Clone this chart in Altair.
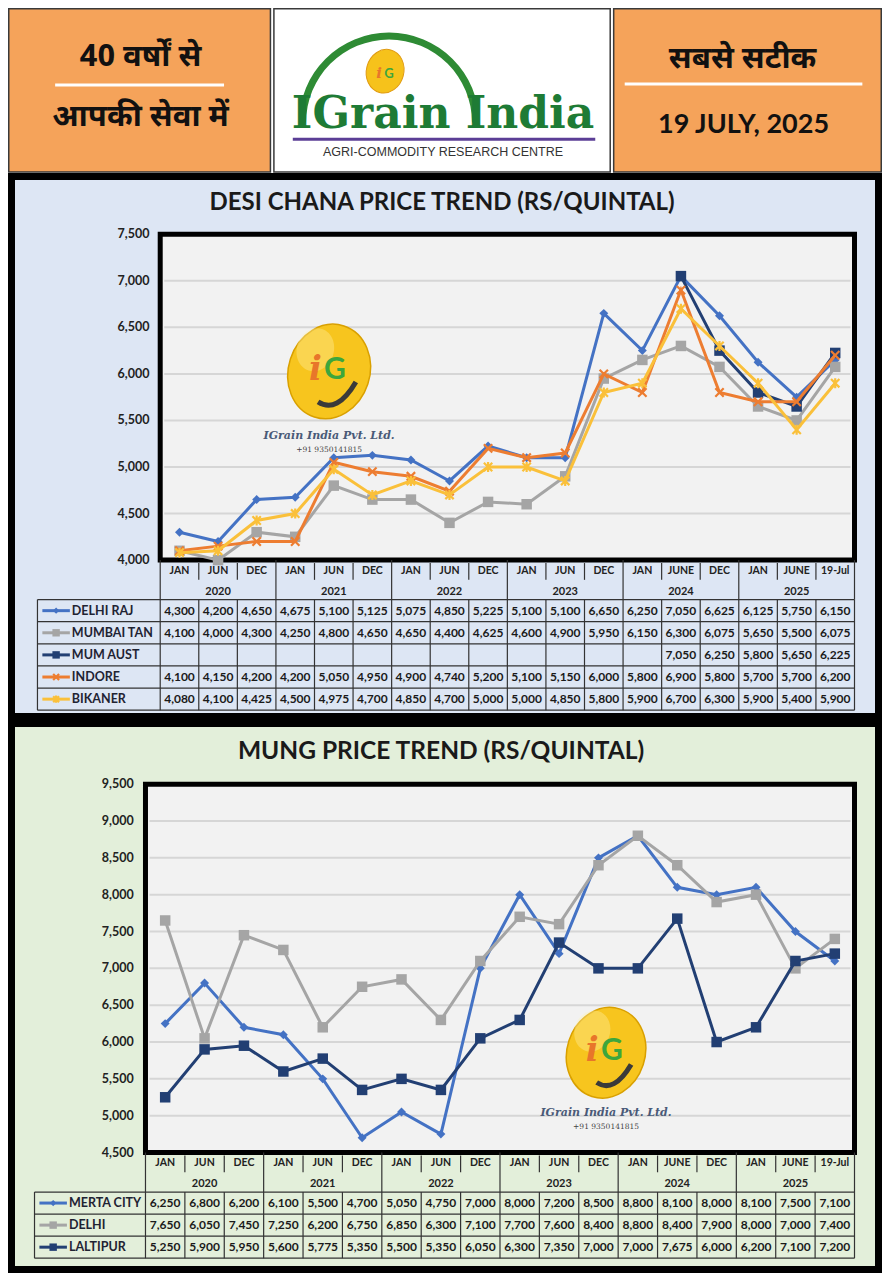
import altair as alt
import pandas as pd

# ---------------- data ----------------
months = ["JAN", "JUN", "DEC", "JAN", "JUN", "DEC", "JAN", "JUN", "DEC",
          "JAN", "JUN", "DEC", "JAN", "JUNE", "DEC", "JAN", "JUNE", "19-Jul"]
years = ["2020", "2021", "2022", "2023", "2024", "2025"]

chana_names = ["DELHI RAJ", "MUMBAI TAN", "MUM AUST", "INDORE", "BIKANER"]
chana_delhi_raj = [4300, 4200, 4650, 4675, 5100, 5125, 5075, 4850, 5225, 5100, 5100, 6650, 6250, 7050, 6625, 6125, 5750, 6150]
chana_mumbai_tan = [4100, 4000, 4300, 4250, 4800, 4650, 4650, 4400, 4625, 4600, 4900, 5950, 6150, 6300, 6075, 5650, 5500, 6075]
chana_mum_aust = [None, None, None, None, None, None, None, None, None, None, None, None, None, 7050, 6250, 5800, 5650, 6225]
chana_indore = [4100, 4150, 4200, 4200, 5050, 4950, 4900, 4740, 5200, 5100, 5150, 6000, 5800, 6900, 5800, 5700, 5700, 6200]
chana_bikaner = [4080, 4100, 4425, 4500, 4975, 4700, 4850, 4700, 5000, 5000, 4850, 5800, 5900, 6700, 6300, 5900, 5400, 5900]
chana_ticks = [4000, 4500, 5000, 5500, 6000, 6500, 7000, 7500]

mung_names = ["MERTA CITY", "DELHI", "LALTIPUR"]
mung_merta_city = [6250, 6800, 6200, 6100, 5500, 4700, 5050, 4750, 7000, 8000, 7200, 8500, 8800, 8100, 8000, 8100, 7500, 7100]
mung_delhi = [7650, 6050, 7450, 7250, 6200, 6750, 6850, 6300, 7100, 7700, 7600, 8400, 8800, 8400, 7900, 8000, 7000, 7400]
mung_laltipur = [5250, 5900, 5950, 5600, 5775, 5350, 5500, 5350, 6050, 6300, 7350, 7000, 7000, 7675, 6000, 6200, 7100, 7200]
mung_ticks = [4500, 5000, 5500, 6000, 6500, 7000, 7500, 8000, 8500, 9000, 9500]

# ---------------- styles ----------------
BLUE = "#4472C4"
GRAY = "#A5A5A5"
NAVY = "#223F73"
ORANGE = "#ED7D31"
YELLOW = "#FAC03A"
FONT = "Lato"
HINDI = "'Noto Sans Devanagari', 'Lohit Devanagari', 'Noto Sans', sans-serif"

W = 874
SX = W / 890
SY = 1264 / 1280
ONE = pd.DataFrame({"k": [0]})

X_PATH = "M-1,-1L1,1M-1,1L1,-1"
STAR_PATH = "M-1,-1L1,1M-1,1L1,-1M0,-1.2L0,1.2"
ELLIPSE = "M0,-1A0.85,1 0 1,1 0,1A0.85,1 0 1,1 0,-1Z"
SWOOSH = "M-1,0.35Q0,1 1,-0.7"


def marker(kind, col, scale=1.0):
    if kind == "diamond":
        return dict(shape="diamond", filled=True, color=col, size=80 * scale, opacity=1)
    if kind == "square":
        return dict(shape="square", filled=True, color=col, size=110 * scale, opacity=1)
    if kind == "x":
        return dict(shape=X_PATH, filled=False, color=col, size=70 * scale, strokeWidth=2.2, opacity=1)
    return dict(shape=STAR_PATH, filled=False, color=col, size=70 * scale, strokeWidth=2.2, opacity=1)


def logo_layers(cx, cy, w, h, ty, X, Y):
    b = alt.Chart(ONE)
    out = []
    out.append(b.mark_point(shape=ELLIPSE, size=(h * SY) ** 2, filled=True, fill="#F7C51E",
                            stroke="#D9A000", strokeWidth=1.5, opacity=1, angle=18)
               .encode(x=alt.value(X(cx)), y=alt.value(Y(cy))))
    out.append(b.mark_point(shape=ELLIPSE, size=(h * 0.45) ** 2, filled=True, fill="#FFF3B0",
                            opacity=0.35, angle=18)
               .encode(x=alt.value(X(cx - 14)), y=alt.value(Y(cy - 22))))
    out.append(b.mark_text(text="i", font="DejaVu Serif", fontSize=34, fontStyle="italic",
                           fontWeight="bold", color="#E8762A")
               .encode(x=alt.value(X(cx - 14)), y=alt.value(Y(cy - 2))))
    out.append(b.mark_text(text="G", font=FONT, fontSize=30, fontWeight="bold", color="#3DA63D")
               .encode(x=alt.value(X(cx + 6)), y=alt.value(Y(cy - 2))))
    out.append(b.mark_point(shape=SWOOSH, size=(w * 0.42) ** 2, filled=False, stroke="#3a3a3a",
                            strokeWidth=5, opacity=1)
               .encode(x=alt.value(X(cx + 8)), y=alt.value(Y(cy + 24))))
    out.append(b.mark_text(text="IGrain India Pvt. Ltd.", font="DejaVu Serif", fontSize=11,
                           fontStyle="italic", fontWeight="bold", color="#4A5A78")
               .encode(x=alt.value(X(cx)), y=alt.value(Y(ty))))
    out.append(b.mark_text(text="+91 9350141815", font="DejaVu Serif", fontSize=7.5, color="#444")
               .encode(x=alt.value(X(cx)), y=alt.value(Y(ty + 14))))
    return out


def price_panel(s):
    top, bottom = s["top"], s["bottom"]
    H = round((bottom - top) * SY)

    def X(v):
        return round(v * SX, 2)

    def Y(v):
        return round((v - top) * SY, 2)

    L, R = X(s["L"]), X(s["R"])
    PT, PB = Y(s["PT"]), Y(s["PB"])
    n = len(months)
    nr = len(s["names"])
    xs = alt.Scale(domain=[0, n], range=[L, R], nice=False, zero=False)
    ys = alt.Scale(domain=[s["ticks"][0], s["ticks"][-1]], range=[PB, PT], nice=False, zero=False)
    rs = alt.Scale(domain=[0, nr], range=[Y(s["rows_top"]), Y(s["rows_bottom"])], nice=False, zero=False)
    b = alt.Chart(ONE)
    layers = []
    bw = 7
    # panel background and border
    layers.append(b.mark_rect(fill=s["bg"], stroke="black", strokeWidth=bw)
                  .encode(x=alt.value(bw / 2), x2=alt.value(W - bw / 2),
                          y=alt.value(bw / 2), y2=alt.value(H - bw / 2)))
    # title
    layers.append(b.mark_text(text=s["title"], font=FONT, fontSize=s["title_size"], fontWeight="bold",
                              color="#1a1a1a")
                  .encode(x=alt.value(X(s["title_x"])), y=alt.value(Y(s["title_y"]))))
    # plot area
    layers.append(b.mark_rect(fill="#F2F2F2", stroke="black", strokeWidth=5)
                  .encode(x=alt.value(L), x2=alt.value(R), y=alt.value(PT), y2=alt.value(PB)))
    tick_df = pd.DataFrame({"v": s["ticks"], "lbl": [f"{t:,}" for t in s["ticks"]]})
    layers.append(alt.Chart(tick_df.iloc[1:-1]).mark_rule(color="#D6D6D6", strokeWidth=2)
                  .encode(y=alt.Y("v:Q", scale=ys, axis=None),
                          x=alt.value(L + 4), x2=alt.value(R - 4)))
    layers.append(alt.Chart(tick_df).mark_text(align="right", baseline="middle", font=FONT,
                                               fontSize=12.5, fontWeight="bold", color="#222")
                  .encode(y=alt.Y("v:Q", scale=ys, axis=None), x=alt.value(X(s["ytick_x"])),
                          text="lbl:N"))
    # watermark
    lx, ly, lw, lh, lty = s["logo"]
    layers += logo_layers(lx, ly, lw, lh, lty, X, Y)
    # series
    for name, vals, col, mk in zip(s["names"], s["values"], s["colors"], s["markers"]):
        df = pd.DataFrame({"pos": [i + 0.5 for i, v in enumerate(vals) if v is not None],
                           "value": [v for v in vals if v is not None]})
        enc = dict(x=alt.X("pos:Q", scale=xs, axis=None), y=alt.Y("value:Q", scale=ys, axis=None))
        layers.append(alt.Chart(df).mark_line(color=col, strokeWidth=s["lw"]).encode(**enc))
        layers.append(alt.Chart(df).mark_point(**marker(mk, col)).encode(**enc))
    # table: header
    mdf = pd.DataFrame({"pos": [i + 0.5 for i in range(n)], "m": months})
    layers.append(alt.Chart(mdf).mark_text(font=FONT, fontSize=10.5, fontWeight="bold", color="#222")
                  .encode(x=alt.X("pos:Q", scale=xs, axis=None), y=alt.value(Y(s["month_y"])),
                          text="m:N"))
    ydf = pd.DataFrame({"pos": [3 * g + 1.5 for g in range(len(years))], "yr": years})
    layers.append(alt.Chart(ydf).mark_text(font=FONT, fontSize=11, fontWeight="bold", color="#222")
                  .encode(x=alt.X("pos:Q", scale=xs, axis=None), y=alt.value(Y(s["year_y"])),
                          text="yr:N"))
    short_b = pd.DataFrame({"b": [i for i in range(1, n) if i % 3 != 0]})
    layers.append(alt.Chart(short_b).mark_rule(color="#333", strokeWidth=1.2)
                  .encode(x=alt.X("b:Q", scale=xs, axis=None),
                          y=alt.value(Y(s["PB"] + 3)), y2=alt.value(Y(s["PB"] + 20))))
    year_b = pd.DataFrame({"b": [i for i in range(0, n + 1, 3)]})
    layers.append(alt.Chart(year_b).mark_rule(color="#333", strokeWidth=1.2)
                  .encode(x=alt.X("b:Q", scale=xs, axis=None),
                          y=alt.value(PB), y2=alt.value(Y(s["rows_top"]))))
    # table: grid
    all_b = pd.DataFrame({"b": list(range(0, n + 1))})
    layers.append(alt.Chart(all_b).mark_rule(color="#333", strokeWidth=1.2)
                  .encode(x=alt.X("b:Q", scale=xs, axis=None),
                          y=alt.value(Y(s["rows_top"])), y2=alt.value(Y(s["rows_bottom"]))))
    layers.append(b.mark_rule(color="#333", strokeWidth=1.2)
                  .encode(x=alt.value(X(s["label_left"])),
                          y=alt.value(Y(s["rows_top"])), y2=alt.value(Y(s["rows_bottom"]))))
    hdf = pd.DataFrame({"k": list(range(0, nr + 1))})
    layers.append(alt.Chart(hdf).mark_rule(color="#333", strokeWidth=1.2)
                  .encode(y=alt.Y("k:Q", scale=rs, axis=None),
                          x=alt.value(X(s["label_left"])), x2=alt.value(R)))
    # table: legend keys and labels
    ll = s["label_left"]
    for k, (name, col, mk) in enumerate(zip(s["names"], s["colors"], s["markers"])):
        kd = pd.DataFrame({"r": [k + 0.5]})
        layers.append(alt.Chart(kd).mark_rule(color=col, strokeWidth=3)
                      .encode(y=alt.Y("r:Q", scale=rs, axis=None),
                              x=alt.value(X(ll + 5)), x2=alt.value(X(ll + 33))))
        layers.append(alt.Chart(kd).mark_point(**marker(mk, col, 0.5))
                      .encode(y=alt.Y("r:Q", scale=rs, axis=None), x=alt.value(X(ll + 19))))
    ndf = pd.DataFrame({"r": [k + 0.5 for k in range(nr)], "name": s["names"]})
    layers.append(alt.Chart(ndf).mark_text(align="left", font=FONT, fontSize=12.5, fontWeight="bold",
                                           color="#1f2333")
                  .encode(y=alt.Y("r:Q", scale=rs, axis=None), x=alt.value(X(ll + 35)), text="name:N"))
    cells = []
    for k, vals in enumerate(s["values"]):
        for i, v in enumerate(vals):
            if v is not None:
                cells.append({"pos": i + 0.5, "r": k + 0.5, "txt": f"{v:,}"})
    cdf = pd.DataFrame(cells)
    layers.append(alt.Chart(cdf).mark_text(font=FONT, fontSize=12, fontWeight="bold", color="#1a1a1a")
                  .encode(x=alt.X("pos:Q", scale=xs, axis=None), y=alt.Y("r:Q", scale=rs, axis=None),
                          text="txt:N"))
    return (alt.layer(*layers)
            .resolve_scale(x="independent", y="independent")
            .properties(width=W, height=H))


def header_panel():
    H = round(166 * SY)

    def X(v):
        return round(v * SX, 2)

    def Y(v):
        return round(v * SY, 2)

    b = alt.Chart(ONE)
    layers = []

    def box(x0, x1, fill):
        return b.mark_rect(fill=fill, stroke="#3a3a3a", strokeWidth=1.5).encode(
            x=alt.value(X(x0) + 0.75), x2=alt.value(X(x1) - 0.75),
            y=alt.value(0.75), y2=alt.value(H))

    layers.append(box(0, 268, "#F5A35A"))
    layers.append(box(270, 614, "#FFFFFF"))
    layers.append(box(616, 890, "#F5A35A"))

    def txt(t, x, y, size, font=FONT, weight="normal", color="#111", style="normal"):
        return b.mark_text(text=t, font=font, fontSize=size, fontWeight=weight, color=color,
                           fontStyle=style, baseline="middle").encode(
            x=alt.value(X(x)), y=alt.value(Y(y)))

    def rule(x0, x1, y, color, w):
        return b.mark_rule(color=color, strokeWidth=w).encode(
            x=alt.value(X(x0)), x2=alt.value(X(x1)), y=alt.value(Y(y)))

    layers.append(txt("40 वर्षों से", 135, 50, 31, font=HINDI, weight="bold"))
    layers.append(rule(48, 220, 78, "white", 3))
    layers.append(txt("आपकी सेवा में", 135, 110, 31, font=HINDI, weight="bold"))
    layers.append(txt("सबसे सटीक", 748, 52, 31, font=HINDI, weight="bold"))
    layers.append(rule(628, 870, 77, "white", 3))
    layers.append(txt("19 JULY, 2025", 749, 118, 27, weight="bold"))
    # logo
    layers.append(b.mark_arc(color="#2E8B34", radius=90, radius2=83, theta=4.712, theta2=7.854)
                  .encode(x=alt.value(X(388)), y=alt.value(Y(116))))
    layers.append(b.mark_point(shape=ELLIPSE, size=44 ** 2, filled=True, fill="#F6C21B",
                               stroke="#E09A10", strokeWidth=1, opacity=1, angle=15)
                  .encode(x=alt.value(X(384)), y=alt.value(Y(64))))
    layers.append(txt("i", 378, 66, 15, font="DejaVu Serif", weight="bold", color="#E8762A", style="italic"))
    layers.append(txt("G", 388, 67, 13, weight="bold", color="#3DA63D"))
    layers.append(txt("IGrain India", 443, 108, 44, font="DejaVu Serif", weight="bold", color="#1E7B35"))
    layers.append(rule(290, 598, 133, "#5B3E96", 3))
    layers.append(txt("AGRI-COMMODITY RESEARCH CENTRE", 443, 146, 12.5, font="Liberation Sans", color="#333"))
    return alt.layer(*layers).properties(width=W, height=H)


chana = price_panel(dict(
    top=166, bottom=720, L=155, R=862, PT=228, PB=558,
    ticks=chana_ticks, ytick_x=144, title="DESI CHANA PRICE TREND (RS/QUINTAL)",
    title_x=442, title_y=196, title_size=24, month_y=569, year_y=590, rows_top=598, rows_bottom=710,
    label_left=30, logo=(327, 367, 90, 97, 432), bg="#DDE6F4", lw=3,
    names=chana_names,
    values=[chana_delhi_raj, chana_mumbai_tan, chana_mum_aust, chana_indore, chana_bikaner],
    colors=[BLUE, GRAY, NAVY, ORANGE, YELLOW],
    markers=["diamond", "square", "square", "x", "star"],
))

mung = price_panel(dict(
    top=720, bottom=1280, L=140, R=862, PT=785, PB=1158,
    ticks=mung_ticks, ytick_x=128, title="MUNG PRICE TREND (RS/QUINTAL)",
    title_x=441, title_y=752, title_size=24.5, month_y=1169, year_y=1190, rows_top=1198, rows_bottom=1265,
    label_left=27, logo=(609, 1057, 82, 93, 1118), bg="#E3EFDA", lw=3,
    names=mung_names,
    values=[mung_merta_city, mung_delhi, mung_laltipur],
    colors=[BLUE, GRAY, NAVY],
    markers=["diamond", "square", "square"],
))

chart = (alt.vconcat(header_panel(), chana, mung, spacing=0)
         .properties(padding=0)
         .configure_view(strokeWidth=0))

chart.save("out.html", embed_options={"renderer": "svg", "actions": False})
